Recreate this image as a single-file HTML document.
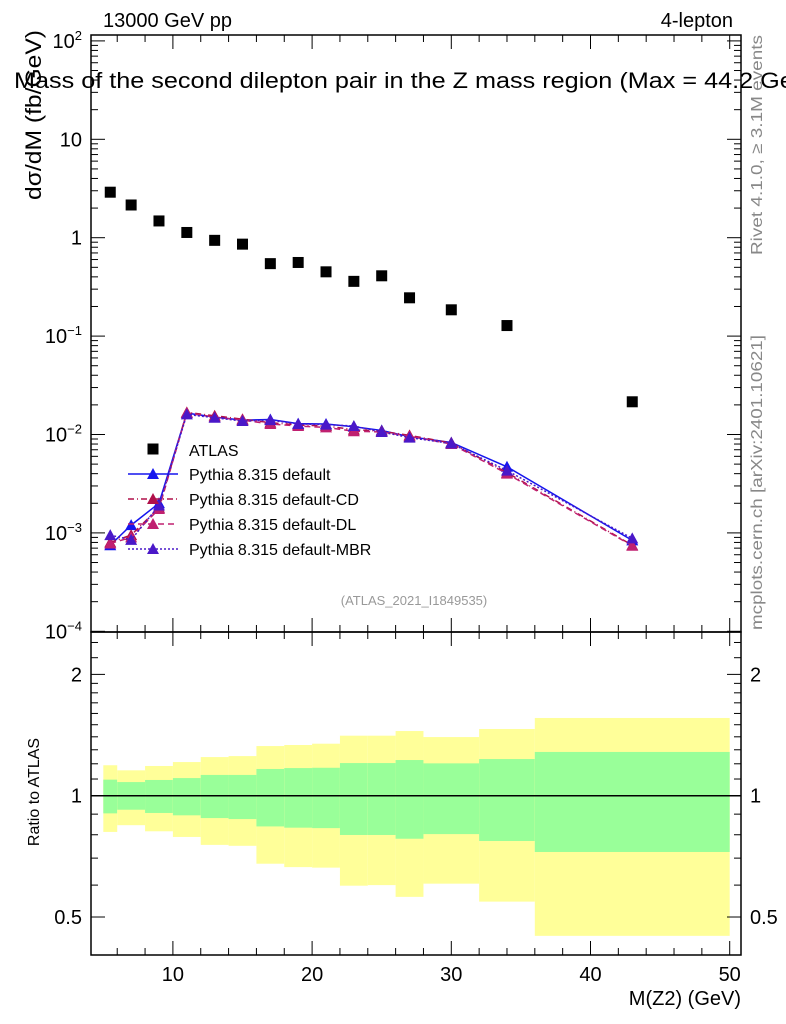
<!DOCTYPE html>
<html><head><meta charset="utf-8"><style>
html,body{margin:0;padding:0;background:#fff;overflow:hidden;}
svg{display:block;font-family:"Liberation Sans",sans-serif;}
</style></head><body>
<svg id="chart" width="786" height="1024" viewBox="0 0 786 1024" xmlns="http://www.w3.org/2000/svg">
<g id="ratio-bands"></g>
<g id="main-marks"></g>
<g id="axes"></g>
<text x="103" y="27" font-size="20">13000 GeV pp</text>
<text x="733" y="27" font-size="20" text-anchor="end">4-lepton</text>
<text x="14" y="88" font-size="22" textLength="805" lengthAdjust="spacingAndGlyphs">Mass of the second dilepton pair in the Z mass region (Max = 44.2 GeV)</text>
<text transform="translate(41,30) rotate(-90)" font-size="22" text-anchor="end" textLength="170" lengthAdjust="spacingAndGlyphs">dσ/dM (fb/GeV)</text>
<text transform="translate(39,792) rotate(-90)" font-size="16" text-anchor="middle">Ratio to ATLAS</text>
<text x="741" y="1005" font-size="20" text-anchor="end">M(Z2) (GeV)</text>
<text x="414" y="605" font-size="13" fill="#999" text-anchor="middle">(ATLAS_2021_I1849535)</text>
<text transform="translate(762,255) rotate(-90)" font-size="16" fill="#888" textLength="220" lengthAdjust="spacingAndGlyphs">Rivet 4.1.0, ≥ 3.1M events</text>
<text transform="translate(762,630) rotate(-90)" font-size="16" fill="#888" textLength="295" lengthAdjust="spacingAndGlyphs">mcplots.cern.ch [arXiv:2401.10621]</text>
<g id="legend"></g>
</svg>
<script>
const xCenters=[5.5,7,9,11,13,15,17,19,21,23,25,27,30,34,43];
const binEdges=[5,6,8,10,12,14,16,18,20,22,24,26,28,32,36,50];
const atlasVals=[2.9,2.15,1.48,1.13,0.94,0.86,0.545,0.56,0.45,0.36,0.41,0.245,0.185,0.128,0.0215];
const mcDefault=[7.5e-4,1.2e-3,2.0e-3,0.0165,0.0150,0.0140,0.0142,0.0129,0.0128,0.0120,0.0110,0.0095,0.0083,0.0047,8.4e-4];
const mcCD=[8.0e-4,9.5e-4,1.8e-3,0.0168,0.0155,0.0143,0.0132,0.0125,0.0122,0.0112,0.0108,0.0098,0.0082,0.0041,7.5e-4];
const mcDL=[7.8e-4,9.0e-4,1.75e-3,0.0166,0.0150,0.0140,0.0128,0.0122,0.0118,0.0108,0.0106,0.0096,0.0080,0.0040,7.4e-4];
const mcMBR=[9.5e-4,8.5e-4,1.9e-3,0.0160,0.0148,0.0137,0.0140,0.0128,0.0126,0.0122,0.0106,0.0093,0.0081,0.0043,8.8e-4];
const yellowHi=[1.19,1.156,1.185,1.212,1.247,1.254,1.328,1.336,1.346,1.409,1.409,1.447,1.398,1.464,1.559];
const greenHi=[1.096,1.081,1.094,1.106,1.126,1.126,1.165,1.171,1.173,1.205,1.205,1.226,1.203,1.233,1.284];
const greenLo=[0.904,0.923,0.906,0.894,0.880,0.875,0.839,0.833,0.831,0.799,0.799,0.782,0.803,0.772,0.725];
const yellowLo=[0.813,0.845,0.816,0.790,0.755,0.751,0.678,0.665,0.663,0.598,0.600,0.561,0.605,0.546,0.449];
const xTickLabels=[10,20,30,40,50];
const yTickLabels=["10⁻⁴","10⁻³","10⁻²","10⁻¹","1","10","10²"];
const ratioTickLabels=[0.5,1,2];

const NS="http://www.w3.org/2000/svg";
const L=91,R=741,T=35,MB=632,RB=955;
const X=v=>33.7+13.92*v;
const Y=v=>237.7-98.4*Math.log10(v);
const RY=v=>795.7-403*Math.log10(v);
function mk(tag,attrs,parent){const e=document.createElementNS(NS,tag);for(const k in attrs)e.setAttribute(k,attrs[k]);parent.appendChild(e);return e;}
const bands=document.getElementById('ratio-bands');
const marks=document.getElementById('main-marks');
const axes=document.getElementById('axes');
const leg=document.getElementById('legend');

for(let i=0;i<xCenters.length;i++){
  const x0=X(binEdges[i]),x1=X(binEdges[i+1]);
  let r=mk('rect',{x:x0,y:RY(yellowHi[i]),width:x1-x0,height:RY(yellowLo[i])-RY(yellowHi[i]),fill:'#ffff99'},bands);
  
  
  let g=mk('rect',{x:x0,y:RY(greenHi[i]),width:x1-x0,height:RY(greenLo[i])-RY(greenHi[i]),fill:'#99ff99'},bands);
  
  
}
let one=mk('line',{x1:L,x2:R,y1:RY(1),y2:RY(1),stroke:'#000','stroke-width':1.5},bands);



const series=[
 {vals:mcDefault,color:'#1515ee',dash:'',name:'Pythia 8.315 default'},
 {vals:mcCD,color:'#b0104a',dash:'6,3,1,3',name:'Pythia 8.315 default-CD'},
 {vals:mcDL,color:'#c02070',dash:'6,4',name:'Pythia 8.315 default-DL'},
 {vals:mcMBR,color:'#4a18c8',dash:'2,2',name:'Pythia 8.315 default-MBR'}
];
function tri(cx,cy,col,parent){return mk('polygon',{points:`${cx-6},${cy+5} ${cx+6},${cy+5} ${cx},${cy-6}`,fill:col},parent);}
series.forEach((s,si)=>{
  const pts=s.vals.map((v,i)=>X(xCenters[i])+','+Y(v)).join(' ');
  let pl=mk('polyline',{points:pts,fill:'none',stroke:s.color,'stroke-width':1.5,'stroke-dasharray':s.dash},marks);
  
  
  s.vals.forEach((v,i)=>{
    let t=tri(X(xCenters[i]),Y(v),s.color,marks);
    
    
  });
});
atlasVals.forEach((v,i)=>{
  let r=mk('rect',{x:X(xCenters[i])-5.5,y:Y(v)-5.5,width:11,height:11,fill:'#000'},marks);
  
  
});

let lr=mk('rect',{x:147.5,y:443.5,width:11,height:11,fill:'#000'},leg);


let lt=mk('text',{x:189,y:456,'font-size':16},leg);lt.textContent='ATLAS';


series.forEach((s,si)=>{
  const y=474+25*si;
  let ln=mk('line',{x1:128,x2:178,y1:y,y2:y,stroke:s.color,'stroke-width':1.5,'stroke-dasharray':s.dash},leg);
  
  
  tri(153,y,s.color,leg);
  let t=mk('text',{x:189,y:y+6,'font-size':16},leg);t.textContent=s.name;
  
  
});

[[T,MB],[MB,RB]].forEach(([a,b])=>{
  let f=mk('rect',{x:L,y:a,width:R-L,height:b-a,fill:'none',stroke:'#000','stroke-width':1.5},axes);
  
  
});
function ln(x1,y1,x2,y2){mk('line',{x1,y1,x2,y2,stroke:'#000','stroke-width':1},axes);}
for(let v=6;v<=50;v+=2){
  const x=X(v),maj=v%10===0,l=maj?14:7;
  [[T,1],[MB,-1],[MB,1],[RB,-1]].forEach(([y0,d])=>ln(x,y0,x,y0+d*l));
}
xTickLabels.forEach(v=>{let t=mk('text',{x:X(v),y:981,'font-size':20,'text-anchor':'middle'},axes);t.textContent=v;
  
  });
for(let e=-4;e<=2;e++){
  for(let m=1;m<10;m++){
    const v=m*Math.pow(10,e),y=Y(v);
    if(y<T||y>MB)continue;
    const l=m===1?14:7;
    ln(L,y,L+l,y);ln(R,y,R-l,y);
  }
}
yTickLabels.forEach((s,i)=>{const y=Y(Math.pow(10,i-4));let t=mk('text',{x:82,y:y+7,'font-size':20,'text-anchor':'end'},axes);
  if(s.length>2){const b=s.slice(0,2),ex=s.slice(2);t.textContent=b;let sp=mk('tspan',{'font-size':13,dy:-8},t);sp.textContent=ex.replace(/⁻/,'−').replace(/[⁰¹²³⁴]/g,c=>"⁰¹²³⁴".indexOf(c));}
  else t.textContent=s;
  
  });
[0.5,0.6,0.7,0.8,0.9,1,1.1,1.2,1.3,1.4,1.5,1.6,1.7,1.8,1.9,2,2.2,2.4].forEach(v=>{
  const y=RY(v);const maj=(v===0.5||v===1||v===2);const l=maj?14:7;
  ln(L,y,L+l,y);ln(R,y,R-l,y);
});
ratioTickLabels.forEach(v=>{
  let t=mk('text',{x:82,y:RY(v)+7,'font-size':20,'text-anchor':'end'},axes);t.textContent=v;
  
  
  let t2=mk('text',{x:750,y:RY(v)+7,'font-size':20},axes);t2.textContent=v;
  
  
});
</script>
</body></html>
